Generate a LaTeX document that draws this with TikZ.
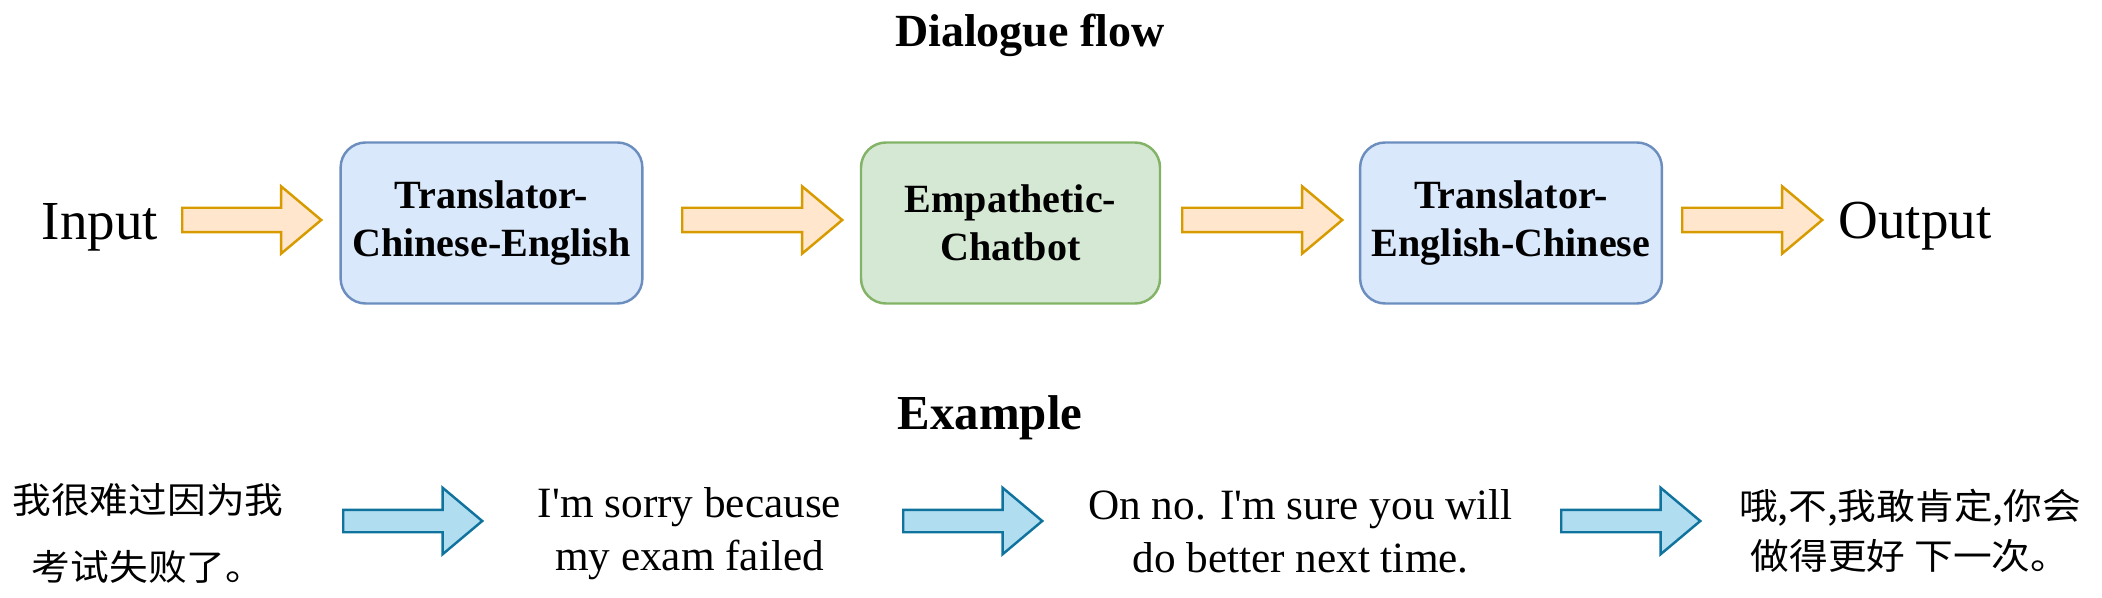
\documentclass[tikz,border=0pt]{standalone}
\usepackage{fontspec}
\setmainfont{Liberation Serif}
\newfontfamily\cjk[FakeStretch=1.08]{Noto Sans CJK SC}
\usepackage{tikz}
\usetikzlibrary{shapes.arrows}

\definecolor{orfill}{HTML}{FFE6CC}
\definecolor{orline}{HTML}{D79B00}
\definecolor{blfill}{HTML}{B1DDF0}
\definecolor{blline}{HTML}{10739E}
\definecolor{boxfill}{HTML}{DAE8FC}
\definecolor{boxline}{HTML}{6C8EBF}
\definecolor{grfill}{HTML}{D5E8D4}
\definecolor{grline}{HTML}{82B366}

\begin{document}
\begin{tikzpicture}[
  flowbox/.style={draw=boxline, fill=boxfill, line width=0.7pt, rounded corners=0.25cm,
    minimum width=2.99cm, minimum height=1.61cm, align=center,
    font=\fontsize{11.4}{13.7}\selectfont\bfseries},
  orarrow/.style={single arrow, draw=orline, fill=orfill, line width=0.7pt, anchor=tail,
    inner xsep=0pt, inner ysep=0.11cm, single arrow head extend=0.215cm,
    single arrow tip angle=80},
  blarrow/.style={single arrow, draw=blline, fill=blfill, line width=0.7pt, anchor=tail,
    inner xsep=0pt, inner ysep=0.10cm, single arrow head extend=0.22cm,
    single arrow tip angle=80, minimum height=1.39cm},
  entext/.style={align=center, anchor=base, font=\fontsize{12.3}{14.8}\selectfont},
  zhtext/.style={align=center, anchor=base, font=\fontsize{10.2}{14.2}\selectfont\cjk}]
\useasboundingbox (0,0) rectangle (21.02,-5.98);

\node[anchor=base, font=\fontsize{13.1}{15}\selectfont\bfseries] (flowtitle) at (10.30,-0.47) {Dialogue flow};
\node[anchor=base, font=\fontsize{15.65}{18}\selectfont] (inp) at (1.00,-2.40) {Input};
\node[orarrow, minimum height=1.39cm] (a1) at (1.81,-2.20) {};
\node[flowbox] (trce) at (4.915,-2.23) {Translator-\\Chinese-English};
\node[orarrow, minimum height=1.60cm] (a2) at (6.81,-2.20) {};
\node[flowbox, draw=grline, fill=grfill] (chat) at (10.105,-2.23) {Empathetic-\\Chatbot};
\node[orarrow, minimum height=1.60cm] (a3) at (11.81,-2.20) {};
\node[flowbox] (tren) at (15.11,-2.23) {Translator-\\English-Chinese};
\node[orarrow, minimum height=1.40cm] (a4) at (16.81,-2.20) {};
\node[anchor=base, font=\fontsize{15.65}{18}\selectfont] (outp) at (19.15,-2.39) {Output};

\node[anchor=base, font=\fontsize{13.9}{16}\selectfont\bfseries] (extitle) at (9.90,-4.29) {Example};
\node[zhtext, font=\fontsize{10.2}{18.8}\selectfont\cjk] (zhin) at (1.48,-5.80) {我很难过因为我\\考试失败了。};
\node[blarrow] (b1) at (3.42,-5.21) {};
\node[entext] (enin) at (6.895,-5.70) {I\textquotesingle m sorry because\\my exam failed};
\node[blarrow] (b2) at (9.02,-5.21) {};
\node[entext] (enout) at (13.005,-5.72) {On no. I\textquotesingle m sure you will\\do better next time.};
\node[blarrow] (b3) at (15.60,-5.21) {};
\node[zhtext] (zhout) at (19.10,-5.69) {哦,不,我敢肯定,你会\\做得更好 下一次。};
\end{tikzpicture}
\end{document}
